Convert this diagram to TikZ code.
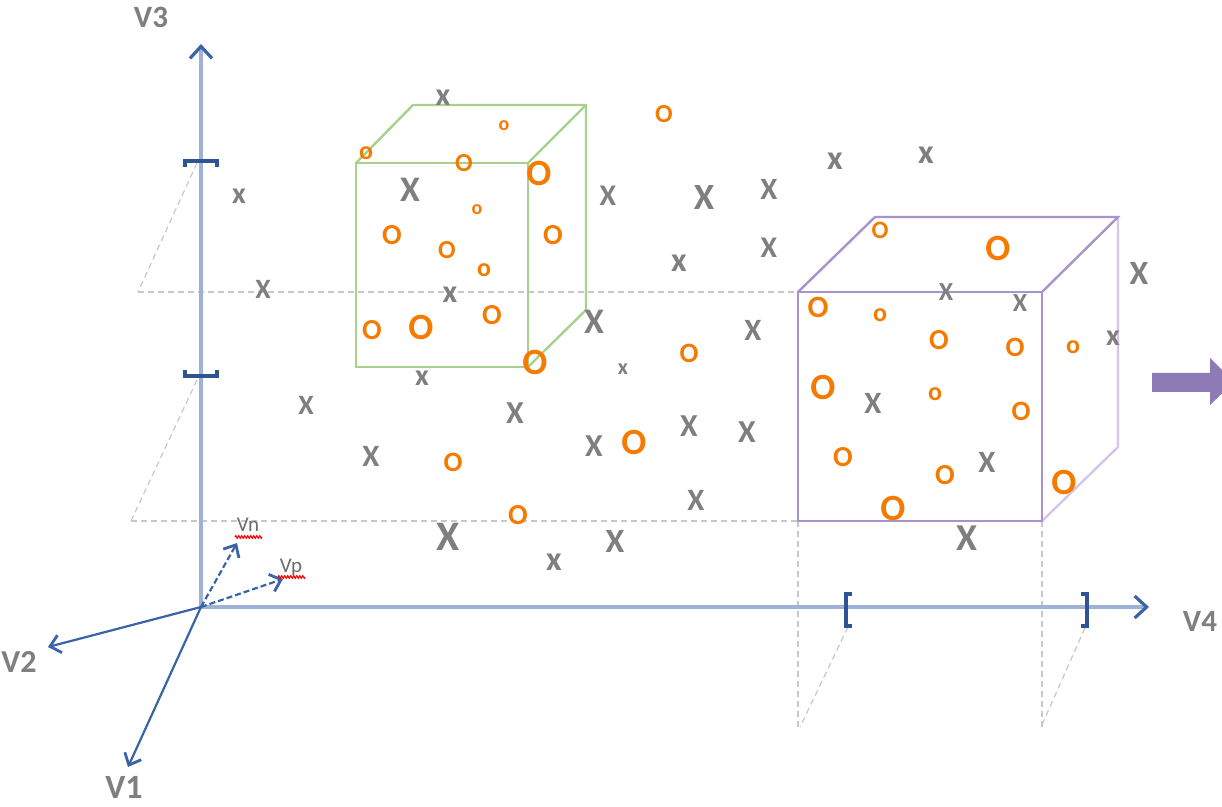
\documentclass[tikz,border=0pt]{standalone}
\usepackage{fontspec}
\setmainfont{Carlito}
\usepackage{tikz}
\usetikzlibrary{arrows.meta, decorations.pathmorphing}
\definecolor{axisline}{HTML}{9DB2D6}
\definecolor{axisdark}{HTML}{3A64A6}
\definecolor{bracketblue}{HTML}{2F5496}
\definecolor{guidegray}{HTML}{C8C8C8}
\definecolor{markgray}{HTML}{7F7F7F}
\definecolor{markorange}{HTML}{F57A00}
\definecolor{boxgreen}{HTML}{A9D18E}
\definecolor{boxpurple}{HTML}{A993CD}
\definecolor{boxlilac}{HTML}{D3C6E8}
\definecolor{arrowpurple}{HTML}{8E7AB5}

\begin{document}
\begin{tikzpicture}[
        x=0.5pt, y=-0.5pt,
        cross/.style={
            text=markgray,
            inner sep=0pt,
            font=\bfseries\fontsize{#1}{#1}\selectfont
        },
        ring/.style={
            text=markorange,
            inner sep=0pt,
            font=\bfseries\fontsize{#1}{#1}\selectfont
        },
        axislabel/.style={
            text=markgray,
            inner sep=0pt,
            font=\bfseries\fontsize{#1}{#1}\selectfont
        },
        veclabel/.style={
            text=markgray!85!black,
            inner sep=0pt,
            font=\fontsize{10.5}{10.5}\selectfont
        },
        axis/.style={draw=axisline, line width=2pt,
            -{Straight Barb[color=axisdark, length=6pt, width=11pt, line width=1.6pt]}},
        basis/.style={draw=axisdark, line width=1.1pt,
            -{Straight Barb[length=5pt, width=9pt, line width=1.4pt]}},
        guide/.style={draw=guidegray, dashed, dash pattern=on 3pt off 2pt, line width=1pt},
        slant/.style={draw=guidegray, dashed, dash pattern=on 3pt off 2pt, line width=0.6pt},
        bracket/.style={draw=bracketblue, line width=1.8pt},
        greenbox/.style={draw=boxgreen, line width=1.2pt},
        purplebox/.style={draw=boxpurple, line width=1.2pt},
        spellmark/.style={draw=red, line width=0.6pt, decorate,
            decoration={zigzag, segment length=1.5pt, amplitude=0.6pt}}
    ]
        \useasboundingbox (0,0) rectangle (1222,807);
        \fill[white] (0,0) rectangle (1222,807);
        \clip (0,0) rectangle (1222,807);

        % guide lines
        \draw[slant] (197,163) -- (138,292);
        \draw[guide] (138,292) -- (798,292);
        \draw[slant] (197,380) -- (131,521);
        \draw[guide] (131,521) -- (798,521);
        \draw[slant] (798,521) -- (798,727);
        \draw[slant] (1042,521) -- (1042,727);
        \draw[slant] (848,627) -- (800,727);
        \draw[slant] (1085,628) -- (1041,727);

        % axes
        \coordinate (origin) at (201,607);
        \coordinate (v3tip) at (201,44);
        \coordinate (v4tip) at (1149,607);
        \coordinate (v1tip) at (128,767);
        \coordinate (v2tip) at (48,647);
        \coordinate (vntip) at (237,543);
        \coordinate (vptip) at (283,579);
        \draw[axis] (origin) -- (v3tip);
        \draw[axis] (origin) -- (v4tip);
        \draw[basis] (origin) -- (v1tip);
        \draw[basis] (origin) -- (v2tip);
        \draw[basis, dashed, dash pattern=on 3pt off 1.5pt] (origin) -- (vntip);
        \draw[basis, dashed, dash pattern=on 3pt off 1.5pt] (origin) -- (vptip);

        \node[axislabel=15.5] (v3label) at (151,17) {V3};
        \node[axislabel=15.5] (v4label) at (1200,621) {V4};
        \node[axislabel=16] (v2label) at (19,662) {V2};
        \node[axislabel=17] (v1label) at (124,787) {V1};
        \node[veclabel] (vnlabel) at (248,525) {Vn};
        \node[veclabel] (vplabel) at (291,567) {Vp};
        \draw[spellmark] (235,537) -- (262,537);
        \draw[spellmark] (278,577) -- (305,577);

        % interval brackets
        \draw[bracket] (185,167) -- (185,161) -- (217,161) -- (217,167);
        \draw[bracket] (185,370) -- (185,376) -- (217,376) -- (217,370);
        \draw[bracket] (852,594) -- (846,594) -- (846,626) -- (852,626);
        \draw[bracket] (1081,594) -- (1087,594) -- (1087,626) -- (1081,626);

        % green box
        \draw[greenbox] (356,163) rectangle (528,367);
        \draw[greenbox] (356,163) -- (413,105) -- (586,105) -- (586,310) -- (528,367);
        \draw[greenbox] (528,163) -- (586,105);

        % purple box
        \draw[draw=boxlilac, line width=1.2pt] (1118,217) -- (1118,447) -- (1042,521);
        \draw[purplebox] (798,292) rectangle (1042,521);
        \draw[purplebox] (798,292) -- (875,217) -- (1118,217) -- (1042,292);

        % block arrow
        \fill[arrowpurple] (1152,373) -- (1210,373) -- (1210,358) -- (1234,382)
            -- (1210,405) -- (1210,392) -- (1152,392) -- cycle;

        % x points
        \node[cross=16] (x1) at (443,98) {x};
        \node[cross=15] (x2) at (239,196) {x};
        \node[cross=18] (x3) at (410,190) {X};
        \node[cross=15] (x4) at (608,196) {X};
        \node[cross=18.5] (x5) at (704,198) {X};
        \node[cross=15.5] (x6) at (769,189) {X};
        \node[cross=17] (x7) at (835,161) {x};
        \node[cross=17] (x8) at (926,155) {x};
        \node[cross=14] (x9) at (263,289) {X};
        \node[cross=17] (x10) at (679,263) {x};
        \node[cross=15] (x11) at (769,248) {X};
        \node[cross=16] (x12) at (450,295) {x};
        \node[cross=18] (x13) at (594,322) {X};
        \node[cross=15.5] (x14) at (753,330) {X};
        \node[cross=13] (x15) at (946,292) {X};
        \node[cross=13] (x16) at (1020,303) {X};
        \node[cross=17] (x17) at (1139,273) {X};
        \node[cross=15] (x18) at (1113,338) {x};
        \node[cross=15] (x19) at (422,378) {x};
        \node[cross=11] (x20) at (623,369) {x};
        \node[cross=14] (x21) at (306,405) {X};
        \node[cross=16] (x22) at (515,413) {X};
        \node[cross=15.5] (x23) at (371,456) {X};
        \node[cross=16] (x24) at (594,446) {X};
        \node[cross=16] (x25) at (689,426) {X};
        \node[cross=16] (x26) at (747,432) {X};
        \node[cross=15.5] (x27) at (873,403) {X};
        \node[cross=15.5] (x28) at (987,462) {X};
        \node[cross=15.5] (x29) at (696,500) {X};
        \node[cross=21] (x30) at (448,537) {X};
        \node[cross=17] (x31) at (615,541) {X};
        \node[cross=17] (x32) at (554,562) {x};
        \node[cross=19] (x33) at (967,538) {X};

        % o points
        \node[ring=13] (o1) at (664,114) {O};
        \node[ring=13] (o2) at (366,153) {o};
        \node[ring=10] (o3) at (504,126) {o};
        \node[ring=13] (o4) at (464,163) {O};
        \node[ring=18.5] (o5) at (539,173) {O};
        \node[ring=10] (o6) at (477,210) {o};
        \node[ring=14.5] (o7) at (392,235) {O};
        \node[ring=13] (o8) at (447,250) {O};
        \node[ring=14.5] (o9) at (553,235) {O};
        \node[ring=13] (o10) at (484,270) {o};
        \node[ring=14.5] (o11) at (372,330) {O};
        \node[ring=18.5] (o12) at (421,327) {O};
        \node[ring=14.5] (o13) at (492,315) {O};
        \node[ring=18.5] (o14) at (535,362) {O};
        \node[ring=14] (o15) at (689,353) {O};
        \node[ring=18.5] (o16) at (634,442) {O};
        \node[ring=14] (o17) at (453,462) {O};
        \node[ring=14.5] (o18) at (518,515) {O};
        \node[ring=12.5] (o19) at (880,230) {O};
        \node[ring=18.5] (o20) at (998,248) {O};
        \node[ring=15.5] (o21) at (818,307) {O};
        \node[ring=13] (o22) at (880,315) {o};
        \node[ring=14.5] (o23) at (939,340) {O};
        \node[ring=14] (o24) at (1015,347) {O};
        \node[ring=13] (o25) at (1073,347) {o};
        \node[ring=18.5] (o26) at (823,387) {O};
        \node[ring=13] (o27) at (935,394) {o};
        \node[ring=14] (o28) at (1021,411) {O};
        \node[ring=14.5] (o29) at (843,457) {O};
        \node[ring=14.5] (o30) at (945,475) {O};
        \node[ring=18.5] (o31) at (1064,482) {O};
        \node[ring=18.5] (o32) at (893,508) {O};
    \end{tikzpicture}
\end{document}
